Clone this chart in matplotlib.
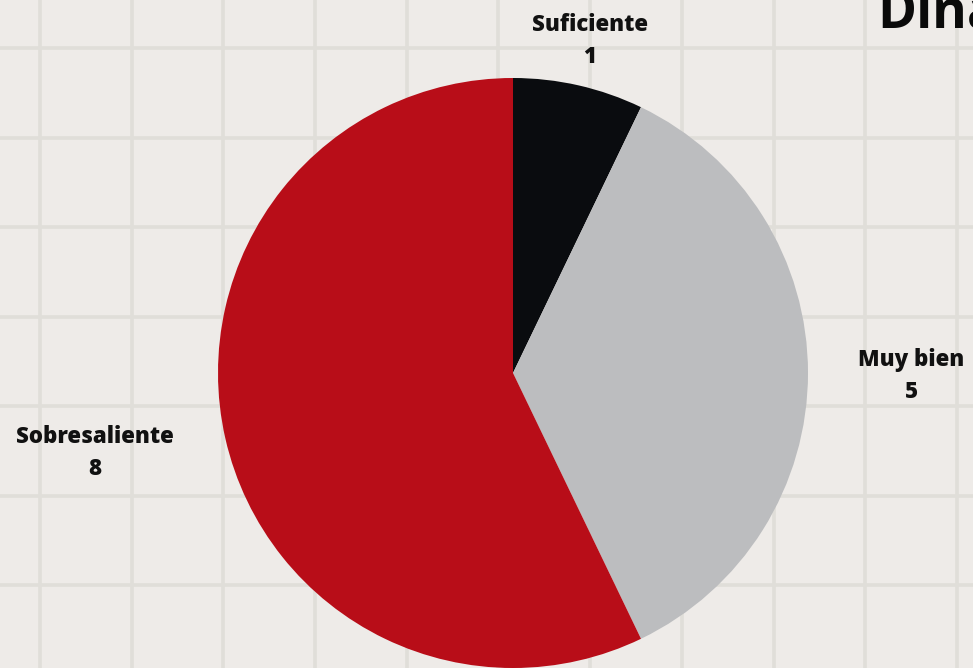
import matplotlib
matplotlib.use("Agg")
import matplotlib.pyplot as plt
import numpy as np

# Resultados de la dinámica
categorias = ["Suficiente", "Muy bien", "Sobresaliente"]
valores = [1, 5, 8]
colores = ["#0a0c0f", "#bcbdbf", "#b80d18"]

W, H = 973, 668
fig = plt.figure(figsize=(W / 100, H / 100), dpi=100, facecolor="#eeebe8")
ax = fig.add_axes([0, 0, 1, 1])
ax.set_facecolor("#eeebe8")

# papel cuadriculado de fondo
for gx in np.arange(40, W, 91.7):
    ax.axvline(gx, color="#e0ded9", lw=2.6, zorder=0)
for gy in np.arange(48, H, 89.5):
    ax.axhline(gy, color="#e0ded9", lw=2.6, zorder=0)

cx, cy, r = 513, 373, 295
# eje y invertido: sentido "antihorario" en datos se ve horario en pantalla
ax.pie(valores, colors=colores, startangle=270, counterclock=True,
       center=(cx, cy), radius=r, frame=True,
       wedgeprops=dict(linewidth=0, zorder=2))

ax.set_xlim(0, W)
ax.set_ylim(H, 0)
ax.set_aspect("equal")
ax.axis("off")

etiqueta = dict(family=["Open Sans", "DejaVu Sans"], fontweight="heavy",
                fontsize=16, color="#111111", ha="center", va="center",
                linespacing=1.45)
posiciones = [(590, 41), (911, 376), (95, 453)]
for nombre, v, (px, py) in zip(categorias, valores, posiciones):
    ax.text(px, py, f"{nombre}\n{v}", **etiqueta)

ax.text(877, 27, "Dinámica", family=["Open Sans", "DejaVu Sans"],
        fontweight="bold", fontsize=38, color="#0a0a0a",
        ha="left", va="baseline")

fig.savefig("out.png", dpi=100, facecolor=fig.get_facecolor())
